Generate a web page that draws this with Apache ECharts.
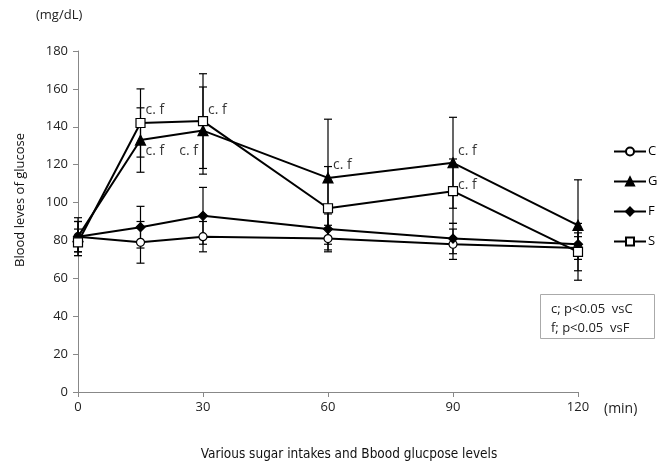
<!DOCTYPE html>
<html><head><meta charset="utf-8">
<script src="https://cdn.jsdelivr.net/npm/echarts@6/dist/echarts.min.js"></script>
<style>html,body{margin:0;padding:0;background:#fff}#c{width:666px;height:468px}</style>
</head><body><div id="c"></div>
<script>
const times = [0, 15, 30, 60, 90, 120];
const seriesNames = ['C', 'G', 'F', 'S'];
const meanC = [82, 79, 82, 81, 78, 76];
const meanG = [82, 133, 138, 113, 121, 88];
const meanF = [82, 87, 93, 86, 81, 78];
const meanS = [79, 142, 143, 97, 106, 74];
const errC = [8, 11, 8, 7, 8, 6];
const errG = [8, 17, 23, 31, 24, 24];
const errF = [10, 11, 15, 8, 8, 6];
const errS = [7, 18, 25, 22, 17, 15];
const yTicks = [0, 20, 40, 60, 80, 100, 120, 140, 160, 180];
const xTicks = [0, 30, 60, 90, 120];
const annTime = [15, 15, 30, 30, 60, 90, 90];
const annValue = [149, 127, 149, 127, 120, 127, 109];
const annText = ['c. f', 'c. f', 'c. f', 'c. f', 'c. f', 'c. f', 'c. f'];
const annSide = ['right', 'right', 'right', 'left', 'right', 'right', 'right'];
const noteLines = ['c; p<0.05  vsC', 'f; p<0.05  vsF'];
const xTitle = 'Various sugar intakes and Bbood glucpose levels';
const yTitle = 'Blood leves of glucose';

const means = [meanC, meanG, meanF, meanS];
const errs = [errC, errG, errF, errS];
const symbols = ['circle', 'triangle', 'diamond', 'rect'];
const fills = ['#fff', '#000', '#000', '#fff'];
const sizes = [8, 10, 9, 9];
const font = 'Open Sans';

const chart = echarts.init(document.getElementById('c'));
const series = [];
seriesNames.forEach((n, i) => {
  series.push({
    name: n + ' SD', type: 'custom', z: 1,
    data: times.map((t, k) => [t, means[i][k] - errs[i][k], means[i][k] + errs[i][k]]),
    renderItem: (p, api) => {
      const lo = api.coord([api.value(0), api.value(1)]);
      const hi = api.coord([api.value(0), api.value(2)]);
      const w = 4;
      const st = { stroke: '#000', lineWidth: 1.2 };
      return { type: 'group', children: [
        { type: 'line', shape: { x1: lo[0], y1: lo[1], x2: hi[0], y2: hi[1] }, style: st },
        { type: 'line', shape: { x1: lo[0] - w, y1: lo[1], x2: lo[0] + w, y2: lo[1] }, style: st },
        { type: 'line', shape: { x1: hi[0] - w, y1: hi[1], x2: hi[0] + w, y2: hi[1] }, style: st }
      ]};
    },
    tooltip: { show: false }
  });
});
seriesNames.forEach((n, i) => {
  series.push({
    name: n, type: 'line', z: 3,
    data: times.map((t, k) => [t, means[i][k]]),
    symbol: symbols[i], symbolSize: sizes[i], showAllSymbol: true,
    lineStyle: { color: '#000', width: 2 },
    itemStyle: { color: fills[i], borderColor: '#000', borderWidth: 1.2 },
    emphasis: { disabled: true }
  });
});
series.push({
  type: 'scatter', z: 4, symbolSize: 0, silent: true,
  data: annTime.map((t, k) => ({
    value: [t, annValue[k]],
    label: { show: true, formatter: annText[k], position: annSide[k], distance: 5,
      fontFamily: font, fontSize: 14, color: '#000' }
  }))
});

chart.setOption({
  animation: false,
  backgroundColor: '#fff',
  grid: { left: 78, right: 88, top: 51, bottom: 76 },
  legend: {
    orient: 'vertical', left: 608, top: 140, itemGap: 17,
    itemWidth: 32, itemHeight: 10,
    data: seriesNames.map(n => ({ name: n })),
    textStyle: { fontFamily: font, fontSize: 13, color: '#000', padding: [0, 0, 0, -3] },
    selectedMode: false
  },
  xAxis: {
    type: 'value', min: 0, max: 120, interval: 30,
    splitLine: { show: false },
    axisLine: { lineStyle: { color: '#888', width: 1 } },
    axisTick: { show: true, length: 5, lineStyle: { color: '#888' } },
    axisLabel: { fontFamily: font, fontSize: 13, color: '#222', margin: 9,
      formatter: v => xTicks.includes(v) ? String(v) : '' },
    name: xTitle,
    nameLocation: 'middle', nameGap: 55,
    nameTextStyle: { fontFamily: '"DejaVu Sans Condensed", "Liberation Sans Narrow", Roboto, sans-serif',
      fontSize: 13.5, color: '#111', padding: [0, 0, 0, 42] }
  },
  yAxis: {
    type: 'value', min: 0, max: 180, interval: 20,
    splitLine: { show: false },
    axisLine: { show: true, lineStyle: { color: '#888', width: 1 } },
    axisTick: { show: true, length: 5, lineStyle: { color: '#888' } },
    axisLabel: { fontFamily: font, fontSize: 13, color: '#222', margin: 10,
      formatter: v => yTicks.includes(v) ? String(v) : '' }
  },
  graphic: [
    { type: 'text', x: 20, y: 200, rotation: Math.PI / 2,
      style: { text: yTitle, font: '13px "Open Sans"', fill: '#111', align: 'center', verticalAlign: 'middle' } },
    { type: 'text', left: 36, top: 9, style: { text: '(mg/dL)', font: '13px "Open Sans"', fill: '#222' } },
    { type: 'text', left: 604, top: 402, style: { text: '(min)', font: '14px "Open Sans"', fill: '#222' } },
    { type: 'rect', shape: { x: 540.5, y: 294.5, width: 114, height: 44 },
      style: { fill: '#fff', stroke: '#aaa', lineWidth: 1 } },
    { type: 'text', left: 551, top: 303, style: { text: noteLines[0], font: '13px "Open Sans"', fill: '#222' } },
    { type: 'text', left: 551, top: 322, style: { text: noteLines[1], font: '13px "Open Sans"', fill: '#222' } }
  ],
  series: series
});
</script></body></html>
